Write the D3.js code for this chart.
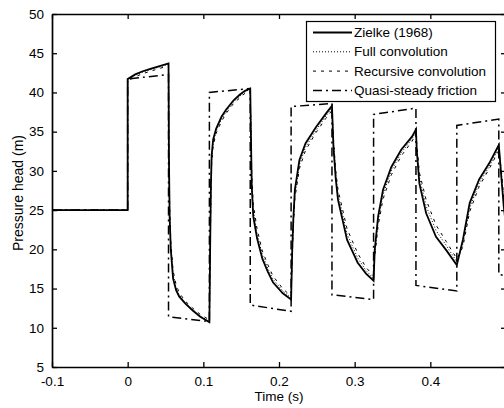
<!DOCTYPE html>
<html>
<head>
<meta charset="utf-8">
<script src="https://cdn.jsdelivr.net/npm/d3@7"></script>
<style>
  body { margin: 0; background: #fff; }
  text { font-family: "Liberation Sans", Arial, Helvetica, sans-serif; fill: #000; }
</style>
</head>
<body>
<script>
// time (s) samples shared by the three unsteady-friction models
var timeZ = [-0.1, 0, 0, 0.01, 0.02, 0.03, 0.04, 0.054,
  0.0545, 0.0555, 0.057, 0.060, 0.064, 0.068, 0.076, 0.086, 0.096, 0.108,
  0.109, 0.110, 0.111, 0.113, 0.117, 0.124, 0.130, 0.140, 0.148, 0.155, 0.162,
  0.163, 0.164, 0.166, 0.171, 0.178, 0.185, 0.192, 0.205, 0.216,
  0.2175, 0.219, 0.221, 0.227, 0.235, 0.249, 0.262, 0.270,
  0.272, 0.275, 0.278, 0.290, 0.304, 0.315, 0.325,
  0.3265, 0.331, 0.3375, 0.3485, 0.3615, 0.376, 0.381,
  0.382, 0.3855, 0.3945, 0.4075, 0.421, 0.435,
  0.443, 0.452, 0.4645, 0.478, 0.4905, 0.494, 0.497, 0.500];

var zielke = [25, 25, 41.7, 42.3, 42.7, 43.0, 43.3, 43.7,
  32, 24, 20, 16.3, 14.8, 14.0, 13.1, 12.2, 11.4, 10.7,
  20, 28, 32, 34, 35.4, 36.9, 37.8, 39.0, 39.7, 40.2, 40.5,
  34, 28, 24.2, 21.4, 18.8, 17.2, 15.8, 14.4, 13.6,
  20, 24, 27.6, 31.4, 33.5, 35.6, 37.3, 38.3,
  33, 29, 26.3, 21.2, 18.3, 16.9, 16.0,
  19.9, 24.2, 27.6, 30.5, 32.7, 34.4, 35.3,
  32.7, 28.4, 24.6, 21.6, 19.9, 18.0,
  21.2, 25.9, 28.9, 31.0, 33.3, 29, 25.5, 23];

var fullConv = [25, 25, 41.6, 42.2, 42.6, 42.9, 43.2, 43.6,
  33, 25, 20.5, 16.8, 15.1, 14.2, 13.2, 12.3, 11.5, 10.8,
  19.5, 27.5, 31.5, 33.6, 35.1, 36.6, 37.5, 38.8, 39.5, 40.1, 40.4,
  34.5, 28.8, 25, 22, 19.3, 17.6, 16.2, 14.7, 13.8,
  19.5, 23.5, 27, 30.8, 33.0, 35.2, 37.0, 38.0,
  33.5, 29.5, 27, 21.9, 18.9, 17.3, 16.3,
  19.4, 23.6, 27.0, 30.0, 32.3, 34.1, 35.0,
  33.2, 29.2, 25.5, 22.4, 20.5, 18.4,
  20.7, 25.3, 28.4, 30.6, 32.9, 29.5, 26, 23.5];

var recConv = [25, 25, 41.5, 42.0, 42.4, 42.7, 43.0, 43.4,
  33.5, 25.5, 21, 17.3, 15.5, 14.5, 13.4, 12.5, 11.7, 11.0,
  19, 27, 31, 33.2, 34.8, 36.3, 37.3, 38.6, 39.3, 39.9, 40.2,
  35, 29.5, 25.8, 22.6, 19.8, 18.1, 16.6, 15.0, 14.0,
  19, 23, 26.5, 30.3, 32.6, 34.9, 36.7, 37.7,
  34, 30, 27.6, 22.6, 19.5, 17.7, 16.6,
  19, 23, 26.4, 29.5, 31.9, 33.8, 34.7,
  33.6, 29.8, 26.3, 23.1, 21.0, 18.8,
  20.3, 24.8, 28.0, 30.3, 32.6, 30, 26.5, 24];

// quasi-steady friction: piecewise straight segments
var timeQS = [-0.1, 0, 0, 0.054, 0.054, 0.108, 0.108, 0.162, 0.162, 0.216, 0.216,
  0.27, 0.27, 0.325, 0.325, 0.381, 0.381, 0.435, 0.435, 0.4905, 0.4905, 0.5];
var quasi = [25, 25, 41.7, 42.3, 11.4, 10.8, 40.0, 40.5, 12.9, 12.1, 38.2,
  38.6, 14.2, 13.6, 37.2, 38.0, 15.4, 14.7, 35.8, 36.6, 16.8, 16.6];

var xTicks = [-0.1, 0, 0.1, 0.2, 0.3, 0.4];
var xTickLabels = ["-0.1", "0", "0.1", "0.2", "0.3", "0.4"];
var yTicks = [5, 10, 15, 20, 25, 30, 35, 40, 45, 50];

var seriesNames = ["Zielke (1968)", "Full convolution", "Recursive convolution", "Quasi-steady friction"];

var W = 504, H = 408;
var mLeft = 52, mRight = 506, mTop = 14, mBottom = 367;

var svg = d3.select("body").append("svg")
  .attr("width", W)
  .attr("height", H);

var x = d3.scaleLinear().domain([-0.1, 0.5]).range([mLeft, mRight]);
var y = d3.scaleLinear().domain([5, 50]).range([mBottom, mTop]);

svg.append("clipPath").attr("id", "clip")
  .append("rect")
  .attr("x", mLeft).attr("y", mTop)
  .attr("width", mRight - mLeft).attr("height", mBottom - mTop);

var plot = svg.append("g").attr("clip-path", "url(#clip)");

var styles = [
  { dash: null, width: 1.8 },
  { dash: "1,2", width: 1 },
  { dash: "3,5", width: 1 },
  { dash: "9,4,2,4", width: 1.5 }
];

function makePts(ts, vs) {
  return ts.map(function (t, i) { return [t, vs[i]]; });
}
var allSeries = [
  makePts(timeZ, zielke),
  makePts(timeZ, fullConv),
  makePts(timeZ, recConv),
  makePts(timeQS, quasi)
];

var line = d3.line()
  .x(function (d) { return x(d[0]); })
  .y(function (d) { return y(d[1]); });

// quasi-steady first so Zielke sits on top
[3, 2, 1, 0].forEach(function (k) {
  plot.append("path")
    .datum(allSeries[k])
    .attr("d", line)
    .attr("fill", "none")
    .attr("stroke", "#000")
    .attr("stroke-width", styles[k].width)
    .attr("stroke-dasharray", styles[k].dash);
});

// axes, ticks pointing inward (matlab style box)
var xAxisB = d3.axisBottom(x).tickValues(xTicks).tickSizeInner(-5).tickSizeOuter(0)
  .tickPadding(9).tickFormat(function (d, i) { return xTickLabels[i]; });
var xAxisT = d3.axisTop(x).tickValues(xTicks).tickSizeInner(-5).tickSizeOuter(0).tickFormat("");
var yAxisL = d3.axisLeft(y).tickValues(yTicks).tickSizeInner(-5).tickSizeOuter(0).tickPadding(8);
var yAxisR = d3.axisRight(y).tickValues(yTicks).tickSizeInner(-5).tickSizeOuter(0).tickFormat("");

var gB = svg.append("g").attr("transform", "translate(0," + mBottom + ")").call(xAxisB);
var gT = svg.append("g").attr("transform", "translate(0," + mTop + ")").call(xAxisT);
var gL = svg.append("g").attr("transform", "translate(" + mLeft + ",0)").call(yAxisL);
var gR = svg.append("g").attr("transform", "translate(" + mRight + ",0)").call(yAxisR);

[gB, gT, gL, gR].forEach(function (g) {
  g.select(".domain").attr("stroke", "#000").attr("stroke-width", 1.7);
  g.selectAll(".tick line").attr("stroke", "#000").attr("stroke-width", 1.3);
  g.selectAll("text").attr("font-size", "13.5px").attr("fill", "#000")
    .style("font-family", "'Liberation Sans', Arial, sans-serif");
});

svg.append("text")
  .attr("x", (mLeft + mRight) / 2)
  .attr("y", 401)
  .attr("text-anchor", "middle")
  .attr("font-size", "13.5px")
  .text("Time (s)");

svg.append("text")
  .attr("transform", "translate(22.5,193) rotate(-90)")
  .attr("text-anchor", "middle")
  .attr("font-size", "14px")
  .text("Pressure head (m)");

// legend
var lg = svg.append("g");
lg.append("rect")
  .attr("x", 306.5).attr("y", 21.5)
  .attr("width", 189).attr("height", 80)
  .attr("fill", "#fff").attr("stroke", "#000").attr("stroke-width", 1.2);

seriesNames.forEach(function (name, i) {
  var ry = 32.5 + i * 19.3;
  lg.append("line")
    .attr("x1", 313).attr("x2", 352)
    .attr("y1", ry).attr("y2", ry)
    .attr("stroke", "#000")
    .attr("stroke-width", styles[i].width)
    .attr("stroke-dasharray", styles[i].dash);
  lg.append("text")
    .attr("x", 354).attr("y", ry + 4.5)
    .attr("font-size", "13.5px")
    .text(name);
});
</script>
</body>
</html>
